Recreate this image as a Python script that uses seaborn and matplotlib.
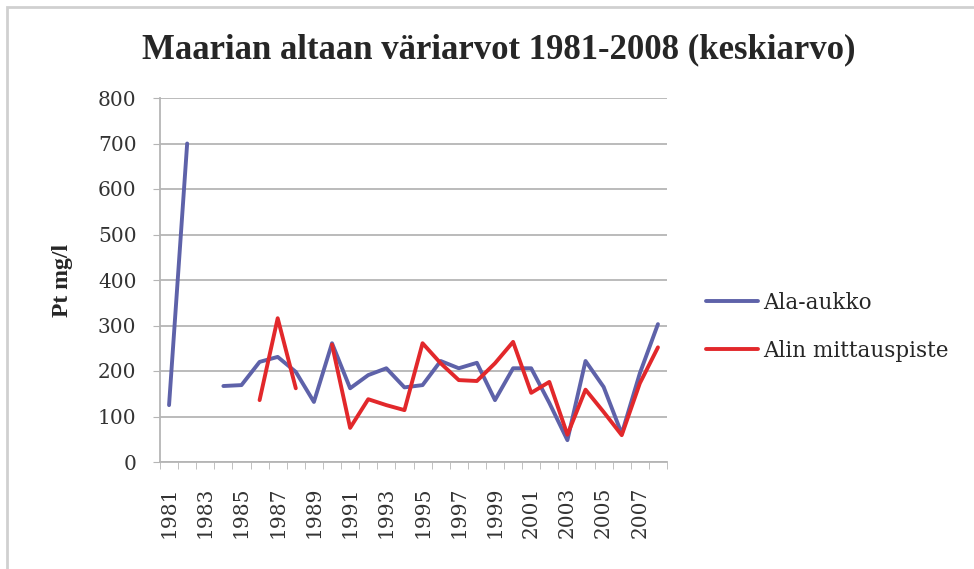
import numpy as np
import pandas as pd
import seaborn as sns
import matplotlib.pyplot as plt
from matplotlib.patches import Rectangle

years = list(range(1981, 2009))
ala_aukko = [125, 700, np.nan, 167, 169, 220, 231, 198, 132, 261,
             162, 191, 206, 164, 169, 222, 206, 218, 136, 206,
             206, 130, 48, 222, 165, 62, 195, 303]
alin_mittauspiste = [np.nan, np.nan, np.nan, np.nan, np.nan, 136, 316, 162, np.nan, 258,
                     75, 138, 125, 114, 261, 217, 180, 178, 217, 264,
                     152, 176, 60, 159, 110, 59, 173, 252]
series_names = ["Ala-aukko", "Alin mittauspiste"]
colors = ["#5e62a9", "#e2282b"]

# long table; a new segment starts after each gap so lines break there
rows = []
for name, vals in zip(series_names, [ala_aukko, alin_mittauspiste]):
    seg = 0
    for i, v in enumerate(vals):
        if np.isnan(v):
            seg += 1
            continue
        rows.append({"pos": i, "value": v, "series": name, "segment": seg})
df = pd.DataFrame(rows)

sns.set_style("white")
plt.rcParams['font.family'] = ['DejaVu Serif']

fig = plt.figure(figsize=(9.74, 5.69), dpi=100)
ax = fig.add_axes([160 / 974, 1 - 462 / 569, 507 / 974, 364 / 569])

sns.lineplot(data=df, x="pos", y="value", hue="series", units="segment",
             estimator=None, palette=colors, linewidth=2.8, ax=ax,
             hue_order=series_names)

ax.set_xlim(-0.5, len(years) - 0.5)
ax.set_ylim(0, 800)
ax.set_yticks(range(0, 801, 100))
ax.yaxis.grid(True, color="#b5b5b5", linewidth=1.3)
ax.set_axisbelow(True)

ax.set_xticks(range(0, len(years), 2))
ax.set_xticklabels([str(y) for y in years[::2]], rotation=90)
ax.set_xticks(np.arange(-0.5, len(years), 1), minor=True)
ax.tick_params(axis="x", which="major", length=0, pad=18, labelsize=14.5, labelcolor="#333333")
ax.tick_params(axis="x", which="minor", length=5, color="#b5b5b5", direction="out")
ax.tick_params(axis="y", length=5, color="#b5b5b5", direction="out", labelsize=14.5,
               pad=12, labelcolor="#333333")
ax.tick_params(bottom=True, left=True, which="both")

for s in ["top", "right"]:
    ax.spines[s].set_visible(False)
for s in ["left", "bottom"]:
    ax.spines[s].set_color("#b5b5b5")
    ax.spines[s].set_linewidth(1.3)

ax.set_xlabel("")
ax.set_ylabel("Pt mg/l", fontsize=17, fontweight="bold", labelpad=18,
              family="Liberation Serif")

ax.legend(title=None, frameon=False, fontsize=15.5, loc="upper left",
          bbox_to_anchor=(706 / 974, 1 - 292 / 569), bbox_transform=fig.transFigure,
          borderaxespad=0, borderpad=0, handlelength=2.4, handletextpad=0.25,
          labelspacing=1.2)

fig.text(0.512, 1 - 50 / 569, "Maarian altaan väriarvot 1981-2008 (keskiarvo)",
         ha="center", va="center", fontsize=25, fontweight="bold",
         family="Liberation Serif")

# outer chart border like the spreadsheet chart frame
fig.patches.append(Rectangle((7 / 974, -0.05), 1.2, 1.05 - 7 / 569, transform=fig.transFigure,
                             fill=False, edgecolor="#d0d0d0", linewidth=2))

fig.savefig("out.png", dpi=100)
